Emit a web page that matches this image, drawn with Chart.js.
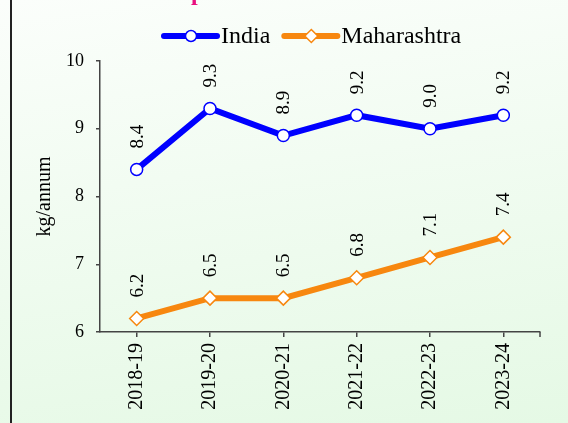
<!DOCTYPE html>
<html>
<head>
<meta charset="utf-8">
<script src="https://cdn.jsdelivr.net/npm/chart.js@4"></script>
<style>
  html, body { margin: 0; padding: 0; }
  body {
    width: 568px; height: 423px; overflow: hidden; position: relative;
    background: linear-gradient(172deg, #fbfefb 0%, #f2fcf2 40%, #e5f9e5 100%);
  }
  #frame { position: absolute; left: 10px; top: 0; width: 2px; height: 423px; background: #222; }
  #wrap { position: absolute; left: 0; top: 0; width: 568px; height: 423px; }
</style>
</head>
<body>
<div id="frame"></div>
<div id="wrap"><canvas id="lineChart"></canvas></div>
<script>
// per capita figures, kg/annum
const years = ['2018-19', '2019-20', '2020-21', '2021-22', '2022-23', '2023-24'];
const india = [8.4, 9.3, 8.9, 9.2, 9.0, 9.2];
const maharashtra = [6.2, 6.5, 6.5, 6.8, 7.1, 7.4];
const yTicks = [6, 7, 8, 9, 10];

const SERIF = '"Liberation Serif", "Times New Roman", serif';

// bottom of the cut-off heading above the chart
const titleFragment = {
  id: 'titleFragment',
  afterDraw(chart) {
    const c = chart.ctx;
    c.save();
    c.fillStyle = '#e8107f';
    c.font = 'bold 24px ' + SERIF;
    c.textBaseline = 'alphabetic';
    c.fillText('p', 191, 0);
    c.restore();
  }
};

// legend drawn as line + marker, like the source
const lineLegend = {
  id: 'lineLegend',
  afterDraw(chart) {
    const c = chart.ctx;
    const y = 36;
    let x = 164;
    c.save();
    c.font = '24px ' + SERIF;
    c.textBaseline = 'middle';
    chart.data.datasets.forEach(ds => {
      c.strokeStyle = ds.borderColor;
      c.lineWidth = 6;
      c.lineCap = 'round';
      c.beginPath();
      c.moveTo(x, y);
      c.lineTo(x + 53, y);
      c.stroke();
      drawMarker(c, ds.pointStyle, x + 27, y, 5.5, ds.borderColor);
      c.fillStyle = '#000';
      c.fillText(ds.label, x + 57, y + 1);
      x += 57 + c.measureText(ds.label).width + 14;
    });
    c.restore();
  }
};

function drawMarker(c, style, x, y, r, color) {
  c.save();
  c.fillStyle = '#fff';
  c.strokeStyle = color;
  c.lineWidth = 1.5;
  c.beginPath();
  if (style === 'rectRot') {
    c.moveTo(x, y - r - 1);
    c.lineTo(x + r + 1, y);
    c.lineTo(x, y + r + 1);
    c.lineTo(x - r - 1, y);
    c.closePath();
  } else {
    c.arc(x, y, r, 0, Math.PI * 2);
  }
  c.fill();
  c.stroke();
  c.restore();
}

// vertical value labels above each point
const valueLabels = {
  id: 'valueLabels',
  afterDatasetsDraw(chart) {
    const c = chart.ctx;
    c.save();
    c.font = '19px ' + SERIF;
    c.fillStyle = '#000';
    c.textAlign = 'left';
    c.textBaseline = 'middle';
    chart.data.datasets.forEach((ds, i) => {
      chart.getDatasetMeta(i).data.forEach((pt, j) => {
        c.save();
        c.translate(pt.x, pt.y - 21);
        c.rotate(-Math.PI / 2);
        c.fillText(ds.data[j].toFixed(1), 0, 1);
        c.restore();
      });
    });
    c.restore();
  }
};

// tick at the right end of the category axis
const axisEndTick = {
  id: 'axisEndTick',
  afterDraw(chart) {
    const a = chart.chartArea, c = chart.ctx;
    c.save();
    c.strokeStyle = '#444';
    c.lineWidth = 1.5;
    c.beginPath();
    c.moveTo(a.right, a.bottom);
    c.lineTo(a.right, a.bottom + 5);
    c.stroke();
    c.restore();
  }
};

new Chart(document.getElementById('lineChart'), {
  type: 'line',
  data: {
    labels: years,
    datasets: [
      {
        label: 'India',
        data: india,
        borderColor: '#0000ff',
        backgroundColor: '#ffffff',
        borderWidth: 6,
        pointStyle: 'circle',
        pointRadius: 6,
        pointBorderWidth: 1.5,
        pointBackgroundColor: '#ffffff',
        pointBorderColor: '#0000ff',
        tension: 0
      },
      {
        label: 'Maharashtra',
        data: maharashtra,
        borderColor: '#f7870f',
        backgroundColor: '#ffffff',
        borderWidth: 6,
        pointStyle: 'rectRot',
        pointRadius: 7,
        pointBorderWidth: 1.5,
        pointBackgroundColor: '#ffffff',
        pointBorderColor: '#f7870f',
        tension: 0
      }
    ]
  },
  options: {
    responsive: true,
    maintainAspectRatio: false,
    animation: false,
    layout: { padding: { top: 61, right: 28, bottom: 0, left: 0 } },
    plugins: {
      legend: { display: false },
      tooltip: { enabled: false }
    },
    scales: {
      x: {
        offset: true,
        afterFit: s => { s.height = 91; },
        ticks: {
          font: { family: SERIF, size: 20 },
          color: '#000',
          minRotation: 90,
          maxRotation: 90,
          padding: 6
        },
        grid: { display: true, drawOnChartArea: false, offset: false, tickLength: 5, color: '#444', lineWidth: 1.5 },
        border: { display: true, color: '#444', width: 1.5 }
      },
      y: {
        min: 6,
        max: 10,
        afterFit: s => { s.width = 100; },
        afterBuildTicks: s => { s.ticks = yTicks.map(v => ({ value: v })); },
        ticks: {
          font: { family: SERIF, size: 18 },
          color: '#000',
          padding: 12
        },
        title: {
          display: true,
          text: 'kg/annum',
          font: { family: SERIF, size: 20 },
          color: '#000',
          padding: { top: 33, bottom: 0 }
        },
        grid: { display: true, drawOnChartArea: false, tickLength: 4, color: '#444', lineWidth: 1.5 },
        border: { display: true, color: '#444', width: 1.5 }
      }
    }
  },
  plugins: [valueLabels, lineLegend, titleFragment, axisEndTick]
});
</script>
</body>
</html>
